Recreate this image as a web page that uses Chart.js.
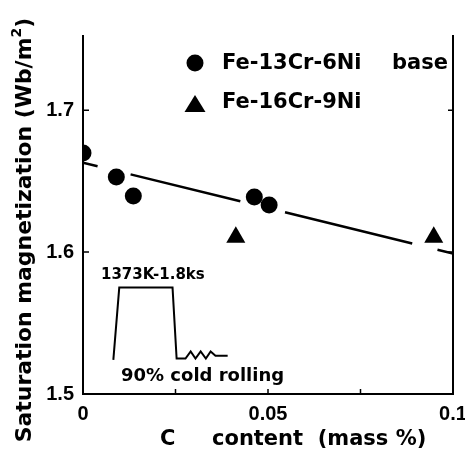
<!DOCTYPE html>
<html>
<head>
<meta charset="utf-8">
<script src="https://cdn.jsdelivr.net/npm/chart.js@4/dist/chart.umd.min.js"></script>
<style>
  body { margin: 0; background: #fff; }
  #chart { display: block; }
</style>
</head>
<body>
<canvas id="chart" width="465" height="454"></canvas>
<script>
// data
const carbon13 = [0, 0.009, 0.0136, 0.0463, 0.0503];
const magnet13 = [1.6698, 1.653, 1.6395, 1.6388, 1.6332];
const carbon16 = [0.0413, 0.0948];
const magnet16 = [1.6104, 1.6104];
const fitX = [0, 0.1];
const fitY = [1.663, 1.599];
// heat treatment sketch (drawn in data units)
const sketchX = [0.0082, 0.0098, 0.0242, 0.0253, 0.0277, 0.0291, 0.0304, 0.0318, 0.0332, 0.0345, 0.0358, 0.0391];
const sketchY = [1.524, 1.575, 1.575, 1.525, 1.525, 1.530, 1.525, 1.530, 1.525, 1.530, 1.527, 1.527];
const xTicks = [0, 0.05, 0.1];
const xTickLabels = ["0", "0.05", "0.1"];
const yTicks = [1.5, 1.6, 1.7];
const yTickLabels = ["1.5", "1.6", "1.7"];
const xMinor = [0.025, 0.05, 0.075];
const yMinor = [1.6, 1.7];

const NUMFONT = "'Liberation Sans', Arial, sans-serif";
const FONT = "'DejaVu Sans', sans-serif";

function pts(xs, ys) {
  return xs.map((x, i) => ({ x: x, y: ys[i] }));
}

const decor = {
  id: "decor",
  afterDraw(chart) {
    const ctx = chart.ctx;
    const a = chart.chartArea;
    const xs = chart.scales.x;
    const ys = chart.scales.y;
    ctx.save();
    ctx.strokeStyle = "#000";
    ctx.fillStyle = "#000";
    ctx.lineWidth = 2;
    // frame (open at top)
    ctx.beginPath();
    ctx.moveTo(a.left, a.top);
    ctx.lineTo(a.left, a.bottom);
    ctx.lineTo(a.right, a.bottom);
    ctx.lineTo(a.right, a.top);
    ctx.stroke();
    ctx.lineWidth = 1.5;
    xMinor.forEach((v) => {
      const px = xs.getPixelForValue(v);
      ctx.beginPath();
      ctx.moveTo(px, a.bottom);
      ctx.lineTo(px, a.bottom - 5);
      ctx.stroke();
    });
    yMinor.forEach((v) => {
      const py = ys.getPixelForValue(v);
      ctx.beginPath();
      ctx.moveTo(a.right, py);
      ctx.lineTo(a.right - 5, py);
      ctx.moveTo(a.left, py);
      ctx.lineTo(a.left + 6, py);
      ctx.stroke();
    });

    // legend
    ctx.beginPath();
    ctx.arc(195, 63, 8.5, 0, Math.PI * 2);
    ctx.fill();
    ctx.beginPath();
    ctx.moveTo(195, 95);
    ctx.lineTo(205.5, 112);
    ctx.lineTo(184.5, 112);
    ctx.closePath();
    ctx.fill();
    ctx.font = "bold 21px " + FONT;
    ctx.textBaseline = "middle";
    ctx.textAlign = "left";
    ctx.fillText("Fe-13Cr-6Ni", 222, 64);
    ctx.fillText("base", 392, 64);
    ctx.fillText("Fe-16Cr-9Ni", 222, 103);

    // sketch labels
    ctx.font = "bold 15px " + FONT;
    ctx.fillText("1373K-1.8ks", 101, 275);
    ctx.font = "bold 18px " + FONT;
    ctx.fillText("90% cold rolling", 121, 376);

    // axis titles
    ctx.font = "bold 21px " + FONT;
    ctx.fillText("C", 160, 440);
    ctx.fillText("content  (mass %)", 212, 440);

    ctx.translate(25, 230);
    ctx.rotate(-Math.PI / 2);
    const main = "Saturation magnetization (Wb/m";
    ctx.font = "bold 22px " + FONT;
    const raw = ctx.measureText(main + "2)").width;
    const size = Math.min(24, 22 * 430 / raw);
    const sup = Math.round(size * 0.62);
    ctx.font = "bold " + size + "px " + FONT;
    const w1 = ctx.measureText(main).width;
    const w3 = ctx.measureText(")").width;
    ctx.font = "bold " + sup + "px " + FONT;
    const w2 = ctx.measureText("2").width;
    const x0 = -(w1 + w2 + w3) / 2;
    ctx.font = "bold " + size + "px " + FONT;
    ctx.fillText(main, x0, 0);
    ctx.fillText(")", x0 + w1 + w2, 0);
    ctx.font = "bold " + sup + "px " + FONT;
    ctx.fillText("2", x0 + w1, -8);
    ctx.restore();
  }
};

new Chart(document.getElementById("chart"), {
  type: "scatter",
  data: {
    datasets: [
      {
        label: "fit",
        type: "line",
        data: pts(fitX, fitY),
        borderColor: "#000",
        borderWidth: 2.5,
        borderDash: [15, 34, 113, 46, 131, 26, 20, 200],
        pointRadius: 0,
        fill: false
      },
      {
        label: "sketch",
        type: "line",
        data: pts(sketchX, sketchY),
        borderColor: "#000",
        borderWidth: 2,
        pointRadius: 0,
        tension: 0,
        fill: false
      },
      {
        label: "Fe-13Cr-6Ni base",
        data: pts(carbon13, magnet13),
        pointStyle: "circle",
        pointRadius: 8.5,
        backgroundColor: "#000",
        borderColor: "#000",
        borderWidth: 0
      },
      {
        label: "Fe-16Cr-9Ni",
        data: pts(carbon16, magnet16),
        pointStyle: "triangle",
        pointRadius: 11,
        backgroundColor: "#000",
        borderColor: "#000",
        borderWidth: 0
      }
    ]
  },
  options: {
    responsive: false,
    animation: false,
    layout: { padding: { top: 35, right: 12, left: 0, bottom: 0 } },
    plugins: {
      legend: { display: false },
      tooltip: { enabled: false }
    },
    scales: {
      x: {
        type: "linear",
        min: 0,
        max: 0.1,
        grid: { display: false, drawTicks: false },
        border: { display: false },
        afterBuildTicks: (s) => { s.ticks = xTicks.map((v) => ({ value: v })); },
        afterFit: (s) => { s.height = 60; s.paddingLeft = 0; s.paddingRight = 0; },
        ticks: {
          color: "#000",
          padding: 8,
          maxRotation: 0,
          font: { family: NUMFONT, size: 20, weight: "bold" },
          callback: (v) => xTickLabels[xTicks.indexOf(v)]
        }
      },
      y: {
        min: 1.5,
        max: 1.753,
        grid: { display: false, drawTicks: false },
        border: { display: false },
        afterBuildTicks: (s) => { s.ticks = yTicks.map((v) => ({ value: v })); },
        afterFit: (s) => { s.width = 83; s.paddingTop = 0; s.paddingBottom = 0; },
        ticks: {
          color: "#000",
          padding: 9,
          font: { family: NUMFONT, size: 20, weight: "bold" },
          callback: (v) => yTickLabels[yTicks.indexOf(v)]
        }
      }
    }
  },
  plugins: [decor]
});
</script>
</body>
</html>
